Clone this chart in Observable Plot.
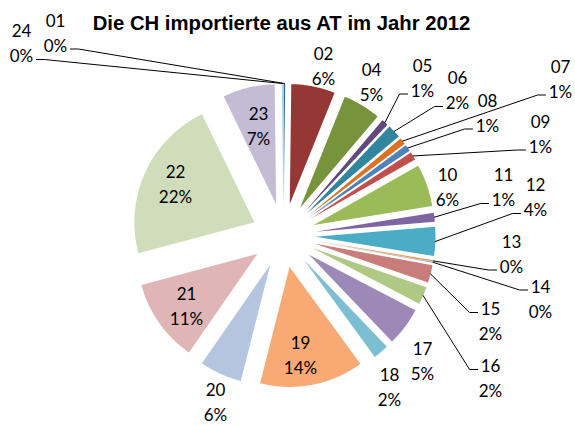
<!DOCTYPE html>
<html><head><meta charset="utf-8">
<script src="https://cdn.jsdelivr.net/npm/d3@7"></script>
<script src="https://cdn.jsdelivr.net/npm/@observablehq/plot@0.6"></script>
<style>
body{margin:0;background:#fff;}
#title{width:563px;height:22px;padding-top:12px;line-height:24px;text-align:center;font:bold 20.3px "Liberation Sans",Arial,sans-serif;color:#000;white-space:nowrap;}
#chart svg{display:block;}
</style></head><body>
<div id="title">Die CH importierte aus AT im Jahr 2012</div>
<div id="chart"></div>
<script>
// ---- data ----
const categories = ["01","02","04","05","06","07","08","09","10","11","12","13","14","15","16","17","18","19","20","21","22","23","24"];
const shares     = [0.2, 5.9, 5.1, 0.9, 1.8, 0.9, 0.9, 1.1, 5.7, 1.2, 3.9, 0.2, 0.1, 2.4, 2.4, 5.2, 2.1, 14.0, 5.7, 11.2, 22.0, 7.0, 0.2];
const colors     = ["#376092","#953735","#77933C","#604A7B","#31859C","#DC7224","#4F81BD","#C0504D","#9BBB59","#8064A2","#4BACC6","#F79646","#7C9DCB","#C97D7B","#AFC883","#9D89B8","#7CBFD3","#F9A974","#B5C5E0","#DFB6B5","#D0DDBB","#C4BBD5","#A5D4E2"];

// ---- layout (page pixels) ----
const TOP = 34, W = 575, H = 426;
const CX = 283, CY = 235, R = 120, EXPLODE = 32;
// label block centres, same order as categories
const labelPos = [[55,30.5],[323,64],[371,80],[422,75.5],[457,88],[560,76.5],[487,110.5],[540,131.5],[447,185],[503,185],[535,195],[511,251.5],[540,296.5],[490,319],[490,376],[422,358.5],[389,385],[300,353],[215,400],[186,303.5],[175,181.5],[258,123.5],[21,41]];
// leader: [side, line] for labels that have a leader line
const leaderSpec = {"24":["right",2],"01":["right",2],"05":["left",2],"06":["left",2],"07":["left",2],"08":["left",2],"09":["left",2],"11":["left",2],"12":["left",2],"13":["left",2],"14":["left",1],"15":["left",1],"16":["left",1]};
const LINE_H = 25, FONT = 17;

const total = d3.sum(shares);
const arcs = d3.pie().sort(null).value(d => d)(shares);
const pctText = shares.map(v => Math.round(v / total * 100) + "%");

const slicePts = [];
const geom = arcs.map((a, i) => {
  const b = (a.startAngle + a.endAngle) / 2;
  const ax = CX + EXPLODE * Math.sin(b), ay = CY - EXPLODE * Math.cos(b);
  const cat = categories[i];
  slicePts.push({cat, x: ax, y: ay});
  const n = Math.max(2, Math.ceil((a.endAngle - a.startAngle) / 0.01));
  for (let k = 0; k <= n; k++) {
    const t = a.startAngle + (a.endAngle - a.startAngle) * k / n;
    slicePts.push({cat, x: ax + R * Math.sin(t), y: ay - R * Math.cos(t)});
  }
  return {cat, ox: ax + R * Math.sin(b), oy: ay - R * Math.cos(b)};
});

const labels = categories.map((c, i) => ({cat: c, x: labelPos[i][0], y: labelPos[i][1], text: c + "\n" + pctText[i]}));

const textW = s => s.replace("%", "").length * 9.9 + (s.includes("%") ? 14 : 0);
const leaderPts = [];
categories.forEach((c, i) => {
  const spec = leaderSpec[c];
  if (!spec) return;
  const [side, line] = spec;
  const [lx, ly] = labelPos[i];
  const str = line === 1 ? c : pctText[i];
  const lineCenter = ly + (line === 1 ? -LINE_H / 2 : LINE_H / 2);
  const yl = lineCenter + 5.5;
  const half = textW(str) / 2;
  const x0 = side === "left" ? lx - half - 3 : lx + half + 3;
  const x1 = side === "left" ? x0 - 8 : x0 + 8;
  leaderPts.push({cat: c, x: x0, y: yl}, {cat: c, x: x1, y: yl}, {cat: c, x: geom[i].ox, y: geom[i].oy});
});

const chart = Plot.plot({
  width: W, height: H - TOP,
  margin: 0,
  x: {domain: [0, W], range: [0, W], axis: null},
  y: {domain: [TOP, H], range: [0, H - TOP], axis: null},
  color: {domain: categories, range: colors},
  style: {background: "white", overflow: "visible"},
  marks: [
    Plot.line(slicePts, {x: "x", y: "y", z: "cat", fill: "cat", stroke: "none", curve: "linear-closed"}),
    Plot.line(leaderPts, {x: "x", y: "y", z: "cat", stroke: "black", strokeWidth: 1, curve: "linear"}),
    Plot.text(labels, {x: "x", y: "y", text: "text", fontSize: FONT, fontFamily: "Lato", lineHeight: LINE_H / FONT, fill: "black"})
  ]
});
document.getElementById("chart").appendChild(chart);
</script>
</body></html>
